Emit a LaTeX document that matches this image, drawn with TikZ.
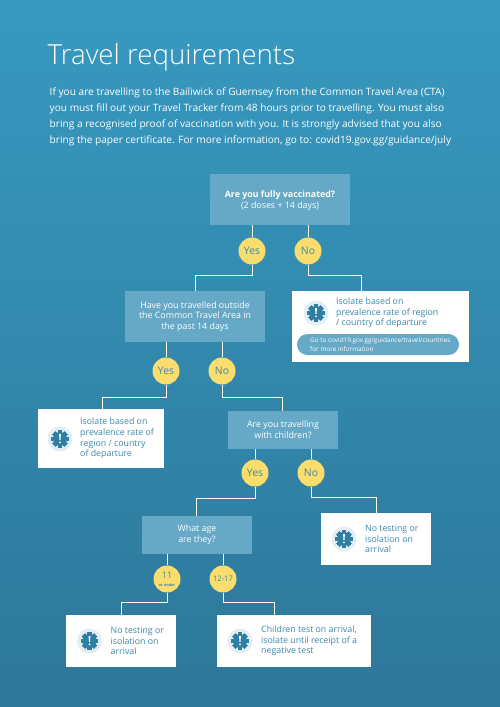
\documentclass[tikz,border=0pt]{standalone}
\usepackage{fontspec}
\setmainfont{Open Sans}
\newfontfamily\lightfont{Open Sans Light}
\usetikzlibrary{calc}
\definecolor{bgtop}{HTML}{3899C0}
\definecolor{bgbot}{HTML}{2D7799}
\definecolor{qbox}{HTML}{66A9C6}
\definecolor{yel}{HTML}{FADD6C}
\definecolor{tealtxt}{HTML}{3A88AA}
\definecolor{iconbg}{HTML}{E3EEF3}
\definecolor{gear}{HTML}{2F7EA3}
\tikzset{
  question/.style={fill=qbox,draw=none,text=white,align=center,inner sep=0pt,font=\fontsize{8.85}{10.7}\selectfont},
  answer/.style={circle,fill=yel,draw=none,minimum size=27pt,inner sep=0pt,text=tealtxt,font=\fontsize{10.4}{11}\selectfont},
  result/.style={fill=white,draw=none,inner sep=0pt},
  restext/.style={text=tealtxt,align=left,anchor=west,inner sep=0pt,font=\fontsize{8.8}{10.6}\selectfont},
  link/.style={draw=white,line width=0.9pt},
  iconbadge/.style={circle,fill=iconbg,draw=none,minimum size=25pt,inner sep=0pt}
}
\newcommand{\gearicon}[2]{%
  \node[iconbadge] (#2) at (#1) {};
  \foreach \a in {0,45,...,315}{\fill[gear,rotate around={\a:(#2.center)}] ($(#2.center)+(-2.3,-8.6)$) rectangle ($(#2.center)+(2.3,8.6)$);}
  \fill[gear] (#2.center) circle (6.8pt);
  \fill[white] ($(#2.center)+(-0.9,-4.8)$) -- ($(#2.center)+(0.9,-4.8)$) -- ($(#2.center)+(0.5,1.2)$) -- ($(#2.center)+(-0.5,1.2)$) -- cycle;
  \fill[white] ($(#2.center)+(0,3.4)$) circle (1pt);
}
\begin{document}
\begin{tikzpicture}[x=1pt,y=-1pt]
\shade[top color=bgtop,bottom color=bgbot] (0,0) rectangle (500,707);
\useasboundingbox (0,0) rectangle (500,707);

\node[anchor=base west,inner sep=0pt,text=white,font=\lightfont\fontsize{27.7}{30}\selectfont] (title) at (47.5,64) {Travel requirements};
\node[anchor=north west,inner sep=0pt,text=white,align=left,font=\fontsize{10.13}{16}\selectfont] (intro) at (49.5,88)
 {If you are travelling to the Bailiwick of Guernsey from the Common Travel Area (CTA)\\
  you must fill out your Travel Tracker from 48 hours prior to travelling. You must also\\
  bring a recognised proof of vaccination with you. It is strongly advised that you also\\
  bring the paper certificate. For more information, go to: covid19.gov.gg/guidance/july};

% questions
\node[question,minimum width=140pt,minimum height=51pt] (q1) at (280,199.5) {};
\node[question,fill=none] (q1text) at (280,200.5) {\textbf{Are you fully vaccinated?}\\(2 doses + 14 days)};
\node[question,minimum width=140pt,minimum height=51pt] (q2) at (195,316.5) {Have you travelled outside\\the Common Travel Area in\\the past 14 days};
\node[question,minimum width=110pt,minimum height=38pt] (q3) at (283,430) {Are you travelling\\with children?};
\node[question,minimum width=110pt,minimum height=38pt] (q4) at (197,535) {What age\\are they?};

% answers
\node[answer] (y1) at (252,251) {Yes};
\node[answer] (n1) at (308,251) {No};
\node[answer] (y2) at (166,371) {Yes};
\node[answer] (n2) at (222,371) {No};
\node[answer] (y3) at (255,473) {Yes};
\node[answer] (n3) at (311,473) {No};
\node[answer,align=center] (a11) at (167,579) {\fontsize{9}{8}\selectfont 11\\[-3pt]\fontsize{3.8}{4}\selectfont\textbf{or under}};
\node[answer] (a12) at (223,579) {\fontsize{7.6}{10}\selectfont 12-17};

% results
\node[result,minimum width=177pt,minimum height=71pt] (r1) at (380.5,326.5) {};
\node[result,minimum width=126.5pt,minimum height=59pt] (r2) at (100.75,438.5) {};
\node[result,minimum width=110pt,minimum height=52pt] (r3) at (376,539) {};
\node[result,minimum width=110pt,minimum height=52pt] (r4) at (121,641) {};
\node[result,minimum width=154pt,minimum height=52pt] (r5) at (294,641) {};

% elbows
\coordinate (e1) at (195,275);
\coordinate (e2) at (361.5,275);
\coordinate (e3) at (102,397);
\coordinate (e4) at (282,397);
\coordinate (e5) at (196,498);
\coordinate (e6) at (376,497);
\coordinate (e7) at (121,602);
\coordinate (e8) at (274,602);

% connectors
\path[link] (q1.south -| y1) -- (y1.north);
\path[link] (q1.south -| n1) -- (n1.north);
\path[link] (y1.south) |- (e1) -- (e1 |- q2.north);
\path[link] (n1.south) |- (e2) -- (e2 |- r1.north);
\path[link] (q2.south -| y2) -- (y2.north);
\path[link] (q2.south -| n2) -- (n2.north);
\path[link] (y2.south) |- (e3) -- (e3 |- r2.north);
\path[link] (n2.south) |- (e4) -- (e4 |- q3.north);
\path[link] (q3.south -| y3) -- (y3.north);
\path[link] (q3.south -| n3) -- (n3.north);
\path[link] (y3.south) |- (e5) -- (e5 |- q4.north);
\path[link] (n3.south) |- (e6) -- (e6 |- r3.north);
\path[link] (q4.south -| a11) -- (a11.north);
\path[link] (q4.south -| a12) -- (a12.north);
\path[link] (a11.south) |- (e7) -- (e7 |- r4.north);
\path[link] (a12.south) |- (e8) -- (e8 |- r5.north);

% icons
\gearicon{316,313}{i1}
\gearicon{60,439}{i2}
\gearicon{344,539}{i3}
\gearicon{89.5,641}{i4}
\gearicon{240,641}{i5}

% result texts
\node[restext] (t1) at (336,313) {Isolate based on\\prevalence rate of region\\/ country of departure};
\node[restext] (t2) at (80,438.5) {Isolate based on\\prevalence rate of\\region / country\\of departure};
\node[restext] (t3) at (365,539) {No testing or\\isolation on\\arrival};
\node[restext] (t4) at (110.5,641) {No testing or\\isolation on\\arrival};
\node[restext] (t5) at (261,641) {Children test on arrival,\\isolate until receipt of a\\negative test};

% pill
\node[fill=qbox,rounded corners=10.5pt,minimum width=162pt,minimum height=21pt,inner sep=0pt] (pill) at (378,344.5) {};
\node[anchor=west,text=white,align=left,inner sep=0pt,font=\fontsize{6.4}{8.2}\selectfont] (pilltext) at (310,344.5) {Go to covid19.gov.gg/guidance/travel/countries\\ for more information};
\end{tikzpicture}
\end{document}
